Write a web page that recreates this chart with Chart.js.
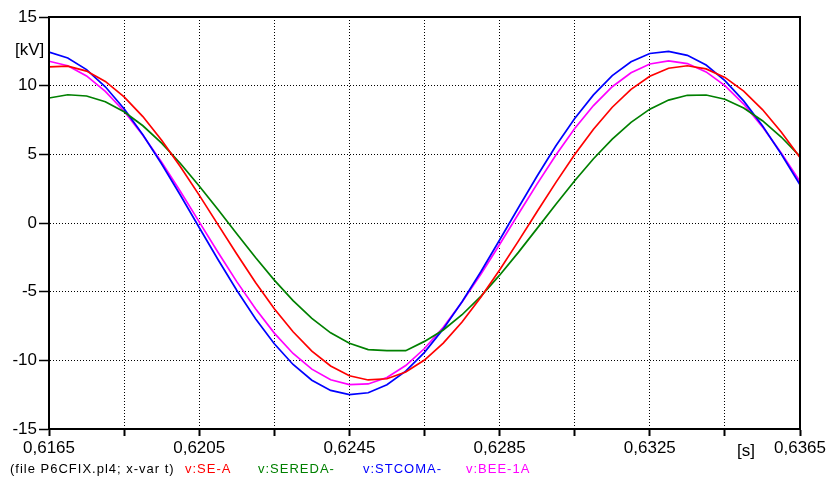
<!DOCTYPE html>
<html>
<head>
<meta charset="utf-8">
<script src="https://cdn.jsdelivr.net/npm/chart.js@4"></script>
<style>
  html, body { margin: 0; padding: 0; background: #fff; }
  #wrap { width: 827px; height: 479px; }
</style>
</head>
<body>
<div id="wrap"><canvas id="plot" width="827" height="479"></canvas></div>
<script>
// time points [s]
const times = [0.6165, 0.6170, 0.6175, 0.6180, 0.6185, 0.6190, 0.6195, 0.6200, 0.6205, 0.6210,
  0.6215, 0.6220, 0.6225, 0.6230, 0.6235, 0.6240, 0.6245, 0.6250, 0.6255, 0.6260,
  0.6265, 0.6270, 0.6275, 0.6280, 0.6285, 0.6290, 0.6295, 0.6300, 0.6305, 0.6310,
  0.6315, 0.6320, 0.6325, 0.6330, 0.6335, 0.6340, 0.6345, 0.6350, 0.6355, 0.6360, 0.6365];

// voltages [kV]
const seA = [11.37, 11.42, 11.06, 10.31, 9.19, 7.75, 6.03, 4.10, 2.03, -0.12,
  -2.26, -4.33, -6.24, -7.92, -9.33, -10.41, -11.12, -11.43, -11.34, -10.85,
  -9.98, -8.75, -7.21, -5.41, -3.42, -1.32, 0.84, 2.96, 4.98, 6.83,
  8.43, 9.73, 10.69, 11.27, 11.45, 11.22, 10.60, 9.60, 8.26, 6.63, 4.77];
const sereda = [9.10, 9.34, 9.25, 8.83, 8.10, 7.08, 5.81, 4.33, 2.70, 0.98,
  -0.78, -2.51, -4.16, -5.65, -6.95, -8.00, -8.76, -9.22, -9.30, -9.30,
  -8.62, -7.79, -6.68, -5.34, -3.80, -2.14, -0.39, 1.37, 3.08, 4.68,
  6.11, 7.33, 8.29, 8.95, 9.30, 9.32, 9.01, 8.37, 7.45, 6.26, 4.84];
const stcoma = [12.45, 12.02, 11.17, 9.92, 8.32, 6.42, 4.30, 2.02, -0.33, -2.66,
  -4.90, -6.97, -8.79, -10.30, -11.45, -12.19, -12.49, -12.36, -11.78, -10.79,
  -9.42, -7.71, -5.73, -3.55, -1.24, 1.11, 3.42, 5.62, 7.61, 9.33,
  10.73, 11.74, 12.34, 12.50, 12.21, 11.50, 10.37, 8.89, 7.08, 5.02, 2.79];
const bee1A = [11.78, 11.45, 10.71, 9.59, 8.14, 6.39, 4.42, 2.29, 0.08, -2.13,
  -4.27, -6.25, -8.02, -9.50, -10.64, -11.41, -11.77, -11.72, -11.25, -10.38,
  -9.14, -7.59, -5.76, -3.73, -1.56, 0.66, 2.85, 4.95, 6.88, 8.55,
  9.92, 10.94, 11.58, 11.80, 11.61, 11.00, 10.01, 8.66, 7.00, 5.10, 3.01];

// axis ticks
const xTicks = [0.6165, 0.6185, 0.6205, 0.6225, 0.6245, 0.6265, 0.6285, 0.6305, 0.6325, 0.6345, 0.6365];
const xTickLabels = ['0,6165', '', '0,6205', '', '0,6245', '', '0,6285', '', '0,6325', '', '0,6365'];

const seriesNames = ['v:SE-A', 'v:SEREDA-', 'v:STCOMA-', 'v:BEE-1A'];
const seriesColors = ['#ff0000', '#008000', '#0000ff', '#ff00ff'];
const seriesData = [seA, sereda, stcoma, bee1A];

const FONT = '"Liberation Sans", Arial, sans-serif';

const frameAndText = {
  id: 'frameAndText',
  afterDraw(chart) {
    const { ctx, chartArea: a } = chart;
    ctx.save();
    ctx.strokeStyle = '#000';
    ctx.lineWidth = 2;
    ctx.strokeRect(a.left, a.top, a.right - a.left, a.bottom - a.top);

    ctx.fillStyle = '#000';
    ctx.font = '17px ' + FONT;
    ctx.textBaseline = 'middle';
    ctx.textAlign = 'left';
    ctx.fillText('[kV]', 15, 50);
    ctx.fillText('[s]', 737, 451);

    // bottom caption row
    ctx.font = '13px ' + FONT;
    ctx.letterSpacing = '1px';
    ctx.fillText('(file P6CFIX.pl4; x-var t)', 10, 469);
    const xs = [185, 258, 363, 466];
    seriesNames.forEach((n, i) => {
      ctx.fillStyle = seriesColors[i];
      ctx.fillText(n, xs[i], 469);
    });
    ctx.restore();
  }
};

new Chart(document.getElementById('plot'), {
  type: 'line',
  data: {
    datasets: seriesData.map((d, i) => ({
      label: seriesNames[i],
      data: times.map((t, j) => ({ x: t, y: d[j] })),
      borderColor: seriesColors[i],
      borderWidth: 1.7,
      pointRadius: 0,
      tension: 0,
      fill: false
    }))
  },
  options: {
    responsive: false,
    animation: false,
    layout: { padding: { left: 0, top: 17, right: 27, bottom: 0 } },
    plugins: { legend: { display: false }, tooltip: { enabled: false } },
    scales: {
      x: {
        type: 'linear',
        min: 0.6165,
        max: 0.6365,
        afterBuildTicks: s => { s.ticks = xTicks.map(v => ({ value: v })); },
        afterFit: s => { s.height = 50; s.paddingLeft = 0; s.paddingRight = 0; },
        ticks: {
          autoSkip: false,
          maxRotation: 0,
          padding: 2,
          color: '#000',
          font: { family: FONT, size: 17 },
          callback: (v, i) => xTickLabels[i]
        },
        grid: { color: '#000', lineWidth: 1, tickLength: 7, tickColor: '#000', tickWidth: 2, tickBorderDash: [] },
        border: { display: true, color: '#000', width: 2, dash: [1, 2] }
      },
      y: {
        min: -15,
        max: 15,
        afterFit: s => { s.width = 49; s.paddingTop = 0; s.paddingBottom = 0; },
        ticks: {
          stepSize: 5,
          padding: 2,
          color: '#000',
          font: { family: FONT, size: 17 }
        },
        grid: { color: '#000', lineWidth: 1, tickLength: 10, tickColor: '#000', tickWidth: 1.5, tickBorderDash: [] },
        border: { display: true, color: '#000', width: 2, dash: [1, 2] }
      }
    }
  },
  plugins: [frameAndText]
});
</script>
</body>
</html>
